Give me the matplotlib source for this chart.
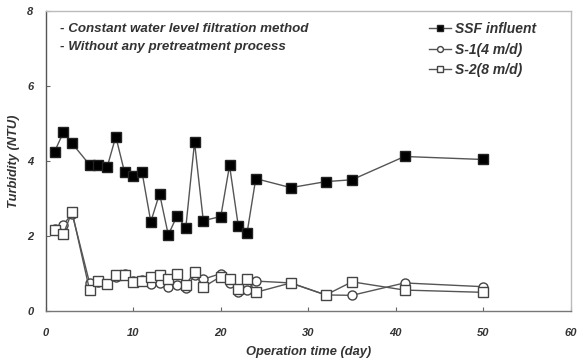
import matplotlib
matplotlib.use("Agg")
import matplotlib.pyplot as plt

# operation day / turbidity (NTU)
days = [1, 2, 3, 5, 6, 7, 8, 9, 10, 11, 12, 13, 14, 15, 16, 17, 18, 20, 21, 22, 23, 24, 28, 32, 35, 41, 50]
ssf_influent = [4.25, 4.76, 4.47, 3.9, 3.9, 3.83, 4.65, 3.7, 3.6, 3.7, 2.38, 3.13, 2.03, 2.54, 2.22, 4.5,
                2.41, 2.52, 3.88, 2.27, 2.08, 3.53, 3.29, 3.45, 3.5, 4.12, 4.04]
s1 = [2.2, 2.3, 2.6, 0.75, 0.78, 0.72, 0.92, 1.0, 0.8, 0.82, 0.72, 0.75, 0.65, 0.7, 0.62, 0.95,
      0.85, 1.0, 0.75, 0.5, 0.55, 0.8, 0.75, 0.43, 0.42, 0.75, 0.65]
s2 = [2.15, 2.05, 2.65, 0.56, 0.8, 0.72, 0.96, 0.95, 0.78, 0.8, 0.9, 0.96, 0.85, 1.0, 0.7, 1.04,
      0.64, 0.92, 0.85, 0.6, 0.85, 0.5, 0.75, 0.43, 0.78, 0.56, 0.5]
notes = ['- Constant water level filtration method', '- Without any pretreatment process']

plt.rcParams['font.family'] = ['Liberation Sans', 'DejaVu Sans']
txt = dict(fontweight='bold', style='italic', color='#333333')

fig = plt.figure(figsize=(5.8, 3.63), dpi=100, facecolor='white')
ax = fig.add_axes([0.079, 0.143, 0.905, 0.827])

ax.plot(days, ssf_influent, color='#555555', lw=1, marker='s', ms=6.5,
        mfc='black', mec='#222222', label='SSF influent')
ax.plot(days, s1, color='#555555', lw=1, marker='o', ms=6.5,
        mfc='white', mec='#444444', label='S-1(4 m/d)')
ax.plot(days, s2, color='#555555', lw=1, marker='s', ms=6.5,
        mfc='white', mec='#444444', label='S-2(8 m/d)')

ax.set_xlim(0, 60)
ax.set_ylim(0, 8)
ax.set_xticks(range(0, 61, 10))
ax.set_yticks(range(0, 9, 2))
ax.tick_params(direction='in', length=3, width=0.8, colors='#666666', labelsize=8)
ax.tick_params(axis='x', pad=12)
ax.tick_params(axis='y', pad=9)
for lab in ax.get_xticklabels() + ax.get_yticklabels():
    lab.set_fontweight('bold')
    lab.set_style('italic')
    lab.set_color('#333333')

ax.spines['left'].set_color('#555555')
ax.spines['bottom'].set_color('#777777')
ax.spines['top'].set_color('#bbbbbb')
ax.spines['right'].set_color('#bbbbbb')
for s in ax.spines.values():
    s.set_linewidth(1)

ax.set_xlabel('Operation time (day)', fontsize=9.3, labelpad=6, **txt)
ax.set_ylabel('Turbidity (NTU)', fontsize=9.3, labelpad=5, **txt)

for i, note in enumerate(notes):
    ax.text(0.027, 0.94 - i * 0.06, note, transform=ax.transAxes, fontsize=9.6, va='center', **txt)

leg = ax.legend(loc='upper left', bbox_to_anchor=(0.73, 0.962), frameon=False, fontsize=10,
                handlelength=1.6, handletextpad=0.3, labelspacing=0.45, borderaxespad=0,
                borderpad=0, markerscale=0.65)
for t in leg.get_texts():
    t.set_fontweight('bold')
    t.set_style('italic')
    t.set_color('#333333')

fig.savefig('out.png', dpi=100)
